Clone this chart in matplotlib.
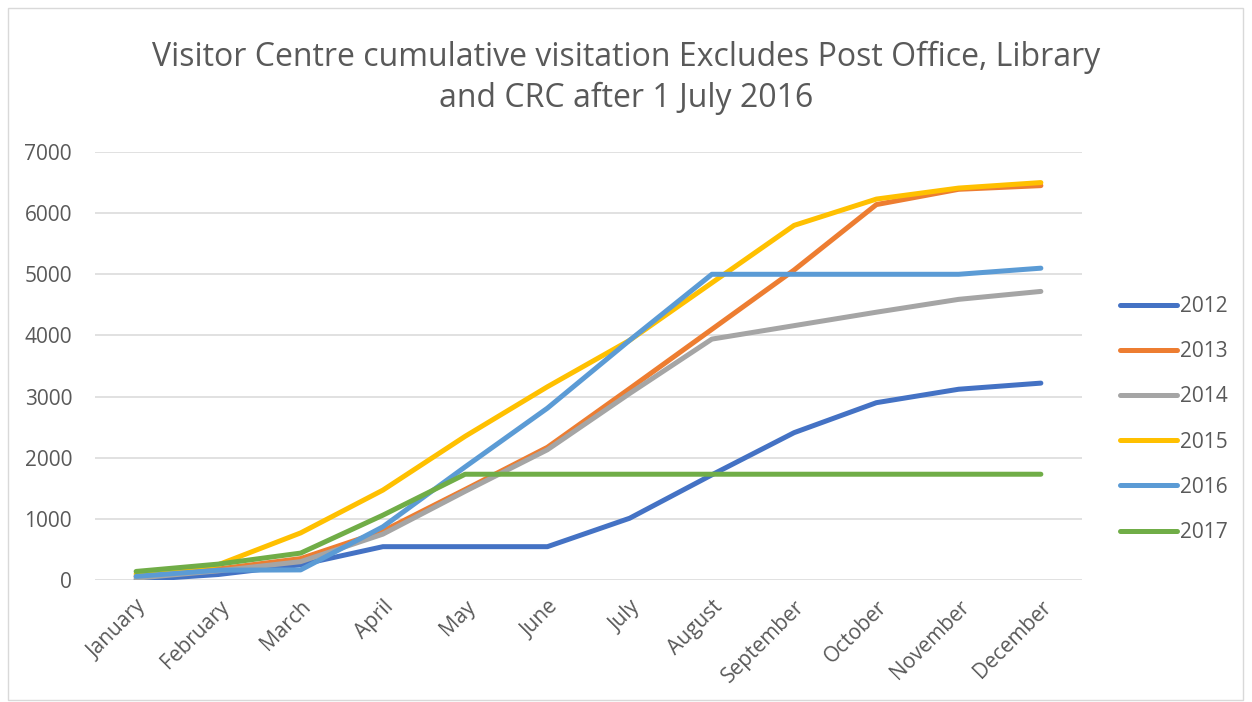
import matplotlib.pyplot as plt
from matplotlib.patches import Rectangle

plt.rcParams['font.family'] = ['Open Sans', 'DejaVu Sans']

months = ['January', 'February', 'March', 'April', 'May', 'June', 'July',
          'August', 'September', 'October', 'November', 'December']
years = ['2012', '2013', '2014', '2015', '2016', '2017']

# cumulative visitor counts per month
v2012 = [0, 90, 250, 545, 545, 545, 1010, 1720, 2410, 2900, 3120, 3220]
v2013 = [60, 180, 350, 800, 1480, 2170, 3130, 4100, 5070, 6140, 6390, 6450]
v2014 = [30, 150, 300, 750, 1450, 2130, 3050, 3940, 4160, 4380, 4590, 4720]
v2015 = [100, 250, 770, 1470, 2350, 3160, 3920, 4860, 5800, 6230, 6410, 6500]
v2016 = [60, 160, 165, 870, 1850, 2810, 3920, 5000, 5000, 5000, 5000, 5100]
v2017 = [140, 260, 440, 1060, 1730, 1730, 1730, 1730, 1730, 1730, 1730, 1730]
series = [v2012, v2013, v2014, v2015, v2016, v2017]
colors = ['#4472C4', '#ED7D31', '#A5A5A5', '#FFC000', '#5B9BD5', '#70AD47']

fig = plt.figure(figsize=(12.52, 7.02), dpi=100)
ax = fig.add_axes([95 / 1252, 1 - 580 / 702, (1082 - 95) / 1252, (580 - 152) / 702])

x = range(len(months))
for vals, c, lab in zip(series, colors, years):
    ax.plot(x, vals, color=c, lw=3.6, label=lab, solid_capstyle='round',
            solid_joinstyle='round')

ax.set_xlim(-0.5, 11.5)
ax.set_ylim(0, 7000)
ax.set_yticks(range(0, 7001, 1000))
ax.set_xticks(list(x))
ax.set_xticklabels(months, rotation=45, ha='right', rotation_mode='anchor')
ax.tick_params(axis='both', length=0, labelsize=15, colors='#595959')
ax.tick_params(axis='y', pad=16.5)
ax.tick_params(axis='x', pad=12)
ax.grid(axis='y', color='#D9D9D9', lw=1.1)
ax.set_axisbelow(True)
for s in ax.spines.values():
    s.set_visible(False)

fig.text(0.5, 1 - 78 / 702, 'Visitor Centre cumulative visitation Excludes Post Office, Library\nand CRC after 1 July 2016',
         ha='center', va='center', fontsize=23, color='#595959', linespacing=1.32)

leg = ax.legend(loc='center left', bbox_to_anchor=(1.0385, 0.375), frameon=False,
                fontsize=15, handlelength=2.75, handletextpad=0.15, labelspacing=1.16,
                borderpad=0, borderaxespad=0)
for t in leg.get_texts():
    t.set_color('#595959')

fig.patches.append(Rectangle((8 / 1252, 2 / 702), 1235 / 1252, 692 / 702,
                             transform=fig.transFigure, fill=False,
                             edgecolor='#D9D9D9', lw=1))

fig.savefig('out.png', dpi=100)
